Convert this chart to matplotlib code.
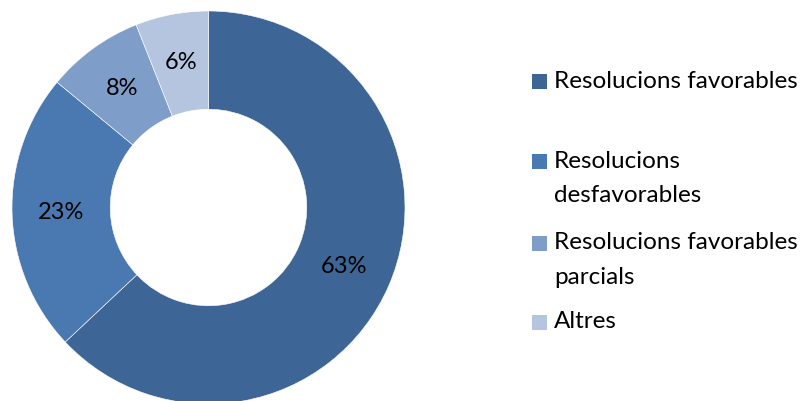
import matplotlib.pyplot as plt
from matplotlib.patches import Rectangle

plt.rcParams['font.family'] = ['Lato', 'DejaVu Sans']

# dades
categories = ["Resolucions favorables", "Resolucions\ndesfavorables",
              "Resolucions favorables\nparcials", "Altres"]
values = [63, 23, 8, 6]
colors = ["#3D6696", "#4A78B0", "#7F9DC9", "#B5C5E0"]

fig = plt.figure(figsize=(8.01, 4.01), dpi=100)
ax = fig.add_axes([12 / 801, -3 / 401, 393 / 801, 393 / 401])

wedges, texts, autotexts = ax.pie(
    values, colors=colors, startangle=90, counterclock=False, radius=1,
    autopct='%d%%', pctdistance=0.75,
    wedgeprops=dict(width=0.5, edgecolor='white', linewidth=0.4),
    textprops=dict(fontsize=17, color='black'))
ax.set_xlim(-1, 1)
ax.set_ylim(-1, 1)
ax.set_aspect('equal')
ax.axis('off')

# llegenda feta a mà (espaiat com l'original)
legend_y = [81.5, 161.5, 243, 322.5]
for lab, col, y in zip(categories, colors, legend_y):
    fig.patches.append(Rectangle((532 / 801, 1 - (y + 7.5) / 401), 15 / 801, 15 / 401,
                                 transform=fig.transFigure, facecolor=col, edgecolor='none'))
    fig.text(554 / 801, 1 - (y - 11) / 401, lab, fontsize=17.5, va='top', ha='left',
             linespacing=1.8)

plt.savefig("out.png", dpi=100)
